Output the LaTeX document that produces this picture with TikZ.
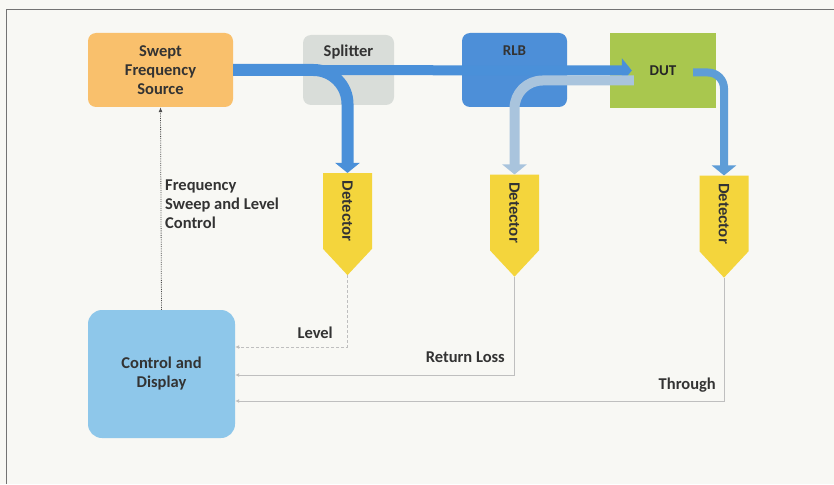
\documentclass[tikz,border=0pt]{standalone}
\usepackage{fontspec}
\setmainfont{Carlito}
\newfontfamily\detfont{Liberation Sans}
\usetikzlibrary{positioning, calc, shapes.arrows, arrows.meta}
\definecolor{paper}{HTML}{F8F8F4}
\definecolor{srcorange}{HTML}{F9C06C}
\definecolor{splgray}{HTML}{D9DDD9}
\definecolor{rlbblue}{HTML}{4D8FD8}
\definecolor{dutgreen}{HTML}{A9C74E}
\definecolor{detyellow}{HTML}{F4D53C}
\definecolor{ctlblue}{HTML}{8EC7EA}
\definecolor{flowblue}{HTML}{4A90D9}
\definecolor{retblue}{HTML}{A9C4DD}
\definecolor{outblue}{HTML}{5E9DD7}
\definecolor{inkgray}{HTML}{333333}

\begin{document}
\begin{tikzpicture}[x=1pt, y=-1pt, font=\bfseries\fontsize{16.5}{19}\selectfont, text=inkgray,
	blk/.style={rounded corners=8pt, align=center, inner sep=0pt},
	det/.style={single arrow, single arrow head extend=0pt, single arrow tip angle=86, fill=detyellow, rotate=-90,
		minimum height=102pt, minimum width=49pt, inner sep=0pt, font=\detfont\bfseries\fontsize{15}{16}\selectfont},
	fat/.style={line width=10pt, draw=flowblue, -{Triangle[width=24pt,length=10pt]}},
	sig/.style={draw=gray!50, line width=0.8pt, -{Latex[length=4pt,width=4pt]}},
	lbl/.style={anchor=east, inner sep=1pt}]
	\fill[paper] (0,0) rectangle (834,484);
	\useasboundingbox (0,0) rectangle (834,484);
	\draw[black!55, line width=1pt] (834,9.5) -- (6.5,9.5) -- (6.5,484);

	% top row
	\node[blk, fill=srcorange, minimum width=145pt, minimum height=74pt] (src) at (160.5,70) {Swept\\Frequency\\Source};
	\node[blk, fill=splgray, minimum width=91pt, minimum height=70pt,
		label={[anchor=north, inner sep=0pt, yshift=-10pt]north:Splitter}] (spl) at (348.5,70) {};
	\node[blk, fill=rlbblue, minimum width=105pt, minimum height=74pt,
		label={[anchor=north, inner sep=0pt, yshift=-13pt, font=\bfseries\fontsize{15}{17}\selectfont]north:RLB}] (rlb) at (514.5,70) {};
	\node[fill=dutgreen, minimum width=106pt, minimum height=75pt, inner sep=0pt, font=\bfseries\fontsize{15}{17}\selectfont, text=black!85] (dut) at (663,70.5) {DUT};

	% detectors and display
	\node[det] (det1) at (347.5,211) {Detector};
	\node[det] (det2) at (514.5,212.5) {Detector};
	\node[det] (det3) at (724,213.5) {Detector};
	\node[blk, fill=ctlblue, rounded corners=14pt, minimum width=147pt, minimum height=128pt] (ctl) at (161.5,374) {Control and\\Display};

	% signal flow
	\coordinate (dutin) at ($(dut.west)+(22,0)$);
	\coordinate (dutret) at ($(dut.west)+(24,10)$);
	\coordinate (dutout) at ($(dut.center)+(30,2)$);
	\draw[fat] (src.east) -- (dutin);
	\draw[fat, line width=12pt, rounded corners=34pt] (src.east) -| (det1.tail);
	\draw[fat, draw=retblue, rounded corners=28pt] (dutret) -| (det2.tail);
	\draw[fat, draw=outblue, line width=8pt, rounded corners=16pt] (dutout) -| (det3.tail);

	% readings back to the display
	\draw[sig, densely dashed] (det1.tip) |- ($(ctl.east)+(0,-27)$);
	\draw[sig] (det2.tip) |- ($(ctl.east)+(0,1)$);
	\draw[sig] (det3.tip) |- ($(ctl.east)+(0,27)$);
	\node[lbl] (lvl) at (334,333) {Level};
	\node[lbl] (rloss) at (506,357) {Return Loss};
	\node[lbl] (thru) at (717,385) {Through};

	% sweep control
	\draw[black!70, line width=0.8pt, densely dotted, -{Latex[length=5pt,width=4pt]}] (ctl.north) -- (src.south);
	\node[anchor=north west, align=left, inner sep=0pt] (sweep) at (165,180) {Frequency\\Sweep and Level\\Control};
\end{tikzpicture}
\end{document}
